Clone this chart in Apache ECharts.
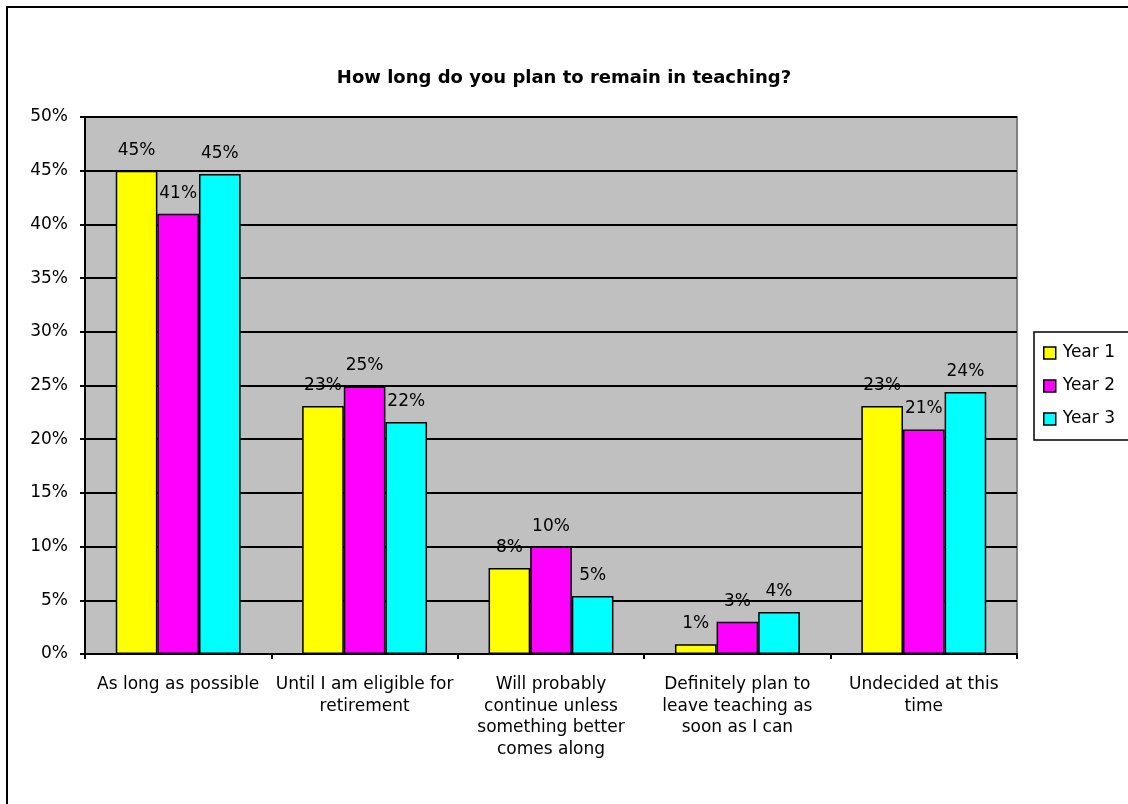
<!DOCTYPE html>
<html>
<head>
<meta charset="utf-8">
<script src="https://cdn.jsdelivr.net/npm/echarts@6/dist/echarts.min.js"></script>
<style>
html,body{margin:0;padding:0;background:#fff;}
#chart{width:1128px;height:804px;}
</style>
</head>
<body>
<div id="chart"></div>
<script>
var titleText = 'How long do you plan to remain in teaching?';
var categories = [
  'As long as possible',
  'Until I am eligible for\nretirement',
  'Will probably\ncontinue unless\nsomething better\ncomes along',
  'Definitely plan to\nleave teaching as\nsoon as I can',
  'Undecided at this\ntime'
];
var seriesNames = ['Year 1', 'Year 2', 'Year 3'];
var year1 = [0.450, 0.231, 0.080, 0.009, 0.231];
var year2 = [0.410, 0.249, 0.100, 0.030, 0.209];
var year3 = [0.447, 0.216, 0.054, 0.039, 0.244];
var colors = ['#ffff00', '#ff00ff', '#00ffff'];
var yMin = 0, yMax = 0.5, yStep = 0.05;

var font = 'DejaVu Sans, Liberation Sans, Arial, sans-serif';
var chart = echarts.init(document.getElementById('chart'));

function pct(v) { return Math.round(v * 100) + '%'; }

var data = [year1, year2, year3];
var series = seriesNames.map(function (name, i) {
  return {
    name: name,
    type: 'bar',
    data: data[i],
    barGap: '0%',
    barCategoryGap: '33%',
    itemStyle: { color: colors[i], borderColor: '#000', borderWidth: 1.5 },
    label: {
      show: true, position: 'top', distance: 12,
      color: '#000', fontSize: 17, fontFamily: font,
      formatter: function (p) { return pct(p.value); }
    }
  };
});

chart.setOption({
  backgroundColor: '#fff',
  animation: false,
  title: {
    text: titleText, left: 'center', top: 64,
    textStyle: { fontSize: 18, fontWeight: 'bold', color: '#000', fontFamily: font }
  },
  legend: {
    data: seriesNames,
    orient: 'vertical', left: 1034, top: 332,
    borderColor: '#000', borderWidth: 1.5,
    padding: [11, 40, 11, 9],
    itemWidth: 12, itemHeight: 12, itemGap: 13,
    icon: 'rect',
    itemStyle: { borderColor: '#000', borderWidth: 1.5 },
    textStyle: { fontSize: 17, color: '#000', fontFamily: font, lineHeight: 20, padding: [0, 0, 0, 2] }
  },
  grid: {
    left: 85, right: 111, top: 117, bottom: 150,
    show: true, backgroundColor: '#c0c0c0', borderColor: '#808080', borderWidth: 2
  },
  xAxis: {
    type: 'category', data: categories,
    axisLine: { lineStyle: { color: '#000', width: 2 } },
    axisTick: { show: true, length: 5, lineStyle: { color: '#000', width: 2 } },
    axisLabel: { interval: 0, fontSize: 17, lineHeight: 21.5, color: '#000', fontFamily: font, margin: 20 }
  },
  yAxis: {
    type: 'value', min: yMin, max: yMax, interval: yStep,
    axisLine: { show: true, lineStyle: { color: '#000', width: 2 } },
    axisTick: { show: true, length: 5, lineStyle: { color: '#000', width: 2 } },
    splitLine: { show: true, lineStyle: { color: '#000', width: 2 } },
    axisLabel: { fontSize: 17, color: '#000', fontFamily: font, margin: 17,
      formatter: function (v) { return pct(v); } }
  },
  graphic: [{
    type: 'rect', z: -1,
    shape: { x: 7, y: 7, width: 1200, height: 900 },
    style: { fill: 'none', stroke: '#000', lineWidth: 2 }
  }],
  series: series
});
</script>
</body>
</html>
